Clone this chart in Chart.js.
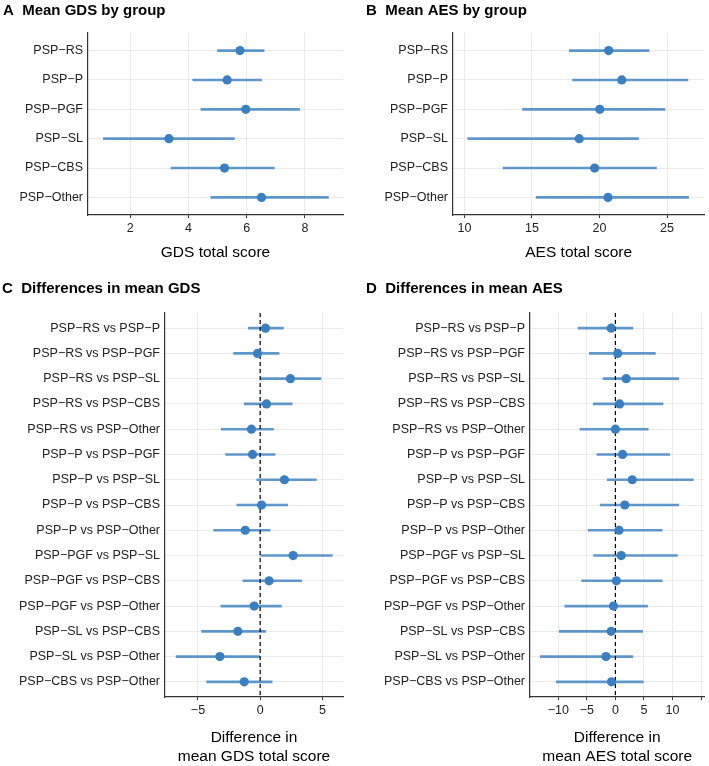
<!DOCTYPE html>
<html>
<head>
<meta charset="utf-8">
<script src="https://cdn.jsdelivr.net/npm/chart.js@4/dist/chart.umd.min.js"></script>
<style>
  body { margin: 0; background: #fff; }
  #wrap { position: relative; width: 709px; height: 766px; }
  canvas { position: absolute; }
</style>
</head>
<body>
<div id="wrap">
  <canvas id="panelA" width="355" height="262" style="left:0;top:0"></canvas>
  <canvas id="panelB" width="354" height="262" style="left:355px;top:0"></canvas>
  <canvas id="panelC" width="355" height="504" style="left:0;top:262px"></canvas>
  <canvas id="panelD" width="354" height="504" style="left:355px;top:262px"></canvas>
</div>
<script>
// groups and estimates
const groups = ['PSP−RS', 'PSP−P', 'PSP−PGF', 'PSP−SL', 'PSP−CBS', 'PSP−Other'];
const gdsMean = [5.77, 5.33, 5.97, 3.33, 5.24, 6.51];
const gdsLow  = [5.00, 4.15, 4.43, 1.08, 3.40, 4.77];
const gdsHigh = [6.60, 6.51, 7.82, 5.58, 6.95, 8.81];
const aesMean = [20.68, 21.65, 20.02, 18.50, 19.64, 20.63];
const aesLow  = [17.77, 18.01, 14.30, 10.24, 12.86, 15.31];
const aesHigh = [23.67, 26.55, 24.85, 22.89, 24.22, 26.60];

const pairs = [
  'PSP−RS vs PSP−P', 'PSP−RS vs PSP−PGF', 'PSP−RS vs PSP−SL', 'PSP−RS vs PSP−CBS',
  'PSP−RS vs PSP−Other', 'PSP−P vs PSP−PGF', 'PSP−P vs PSP−SL', 'PSP−P vs PSP−CBS',
  'PSP−P vs PSP−Other', 'PSP−PGF vs PSP−SL', 'PSP−PGF vs PSP−CBS', 'PSP−PGF vs PSP−Other',
  'PSP−SL vs PSP−CBS', 'PSP−SL vs PSP−Other', 'PSP−CBS vs PSP−Other'
];
const gdsDiffMean = [0.43, -0.21, 2.43, 0.51, -0.70, -0.61, 1.95, 0.11, -1.20, 2.65, 0.72, -0.48, -1.79, -3.24, -1.28];
const gdsDiffLow  = [-0.94, -2.14, 0.00, -1.28, -3.13, -2.78, -0.27, -1.87, -3.74, 0.00, -1.39, -3.16, -4.71, -6.76, -4.30];
const gdsDiffHigh = [1.87, 1.52, 4.89, 2.57, 1.07, 1.20, 4.52, 2.22, 0.80, 5.80, 3.34, 1.71, 0.45, 0.00, 0.96];
const aesDiffMean = [-0.74, 0.40, 1.88, 0.74, 0.00, 1.25, 2.95, 1.65, 0.63, 1.02, 0.17, -0.34, -0.74, -1.65, -0.68];
const aesDiffLow  = [-6.53, -4.55, -2.16, -3.86, -6.19, -3.24, -1.42, -2.67, -4.77, -3.81, -5.91, -8.86, -9.83, -13.13, -10.34];
const aesDiffHigh = [3.07, 6.99, 11.08, 8.35, 5.74, 9.49, 13.64, 11.08, 8.18, 10.85, 8.18, 5.63, 4.77, 3.07, 4.89];

// tick values and labels
const gdsTicks = [2, 4, 6, 8];
const gdsTickLabels = ['2', '4', '6', '8'];
const aesTicks = [10, 15, 20, 25];
const aesTickLabels = ['10', '15', '20', '25'];
const gdsDiffTicks = [-5, 0, 5];
const gdsDiffTickLabels = ['−5', '0', '5'];
const aesDiffTicks = [-10, -5, 0, 5, 10, 15];
const aesDiffTickLabels = ['−10', '−5', '0', '5', '10', ''];

const FONT = "'Liberation Sans', Arial, sans-serif";
const DOT = '#3a7fc1';
const BAR = 'rgba(58,127,193,0.8)';
const GRID = '#ebebeb';
const AXIS = '#333333';

function makePanel(id, p) {
  const n = p.cats.length;
  const datasets = [
    {
      type: 'scatter',
      data: p.mean.map((v, i) => ({ x: v, y: i })),
      pointRadius: 4.6,
      pointBackgroundColor: DOT,
      pointBorderWidth: 0,
      order: 0
    },
    {
      type: 'bar',
      data: p.low.map((v, i) => ({ x: [v, p.high[i]], y: i })),
      backgroundColor: BAR,
      borderWidth: 0,
      barThickness: 2,
      grouped: false,
      order: 2
    }
  ];
  if (p.zeroLine) {
    datasets.push({
      type: 'line',
      data: [{ x: 0, y: -0.6 }, { x: 0, y: n - 0.4 }],
      borderColor: '#000',
      borderWidth: 1.2,
      borderDash: [4, 3],
      pointRadius: 0,
      order: 1
    });
  }
  new Chart(document.getElementById(id), {
    type: 'bar',
    data: { datasets },
    options: {
      responsive: false,
      animation: false,
      indexAxis: 'y',
      layout: { padding: p.pad },
      plugins: {
        legend: { display: false },
        tooltip: { enabled: false },
        title: {
          display: true,
          text: p.title,
          align: 'start',
          color: '#000',
          font: { family: FONT, size: 15, weight: 'bold' },
          padding: p.titlePad
        }
      },
      scales: {
        x: {
          type: 'linear',
          min: p.xMin,
          max: p.xMax,
          afterBuildTicks: s => { s.ticks = p.ticks.map(v => ({ value: v })); },
          afterFit: s => { s.height = p.xHeight; },
          ticks: {
            autoSkip: false,
            maxRotation: 0,
            padding: 3,
            color: '#222',
            font: { family: FONT, size: 12.5 },
            callback: v => p.tickLabels[p.ticks.indexOf(v)]
          },
          grid: { color: GRID, lineWidth: 1, tickLength: 3, tickColor: AXIS, tickWidth: 1 },
          border: { display: true, color: AXIS, width: 1.2 },
          title: {
            display: true,
            text: p.xTitle,
            color: '#000',
            font: { family: FONT, size: 15.5 },
            padding: { top: 0, bottom: p.xTitlePadBottom }
          }
        },
        y: {
          type: 'linear',
          reverse: true,
          min: -0.6,
          max: n - 0.4,
          offset: false,
          afterBuildTicks: s => { s.ticks = p.cats.map((c, i) => ({ value: i })); },
          afterFit: s => { s.width = p.yWidth; },
          ticks: {
            autoSkip: false,
            padding: 5,
            color: '#222',
            font: { family: FONT, size: 12.5 },
            callback: v => p.cats[v]
          },
          grid: { color: GRID, lineWidth: 1, drawTicks: false, offset: false },
          border: { display: true, color: AXIS, width: 1.2 }
        }
      }
    }
  });
}

makePanel('panelA', {
  title: 'A  Mean GDS by group', cats: groups, mean: gdsMean, low: gdsLow, high: gdsHigh,
  xMin: 0.55, xMax: 9.31, ticks: gdsTicks, tickLabels: gdsTickLabels,
  xTitle: 'GDS total score', xTitlePadBottom: 0, xHeight: 47, yWidth: 85,
  pad: { left: 3, right: 12, top: 0, bottom: 0 }, titlePad: { top: 2, bottom: 13 }
});
makePanel('panelB', {
  title: 'B  Mean AES by group', cats: groups, mean: aesMean, low: aesLow, high: aesHigh,
  xMin: 9.15, xMax: 27.77, ticks: aesTicks, tickLabels: aesTickLabels,
  xTitle: 'AES total score', xTitlePadBottom: 0, xHeight: 47, yWidth: 87,
  pad: { left: 11, right: 0, top: 0, bottom: 0 }, titlePad: { top: 2, bottom: 13 }
});
makePanel('panelC', {
  title: 'C  Differences in mean GDS', cats: pairs, mean: gdsDiffMean, low: gdsDiffLow, high: gdsDiffHigh,
  xMin: -7.65, xMax: 6.66, ticks: gdsDiffTicks, tickLabels: gdsDiffTickLabels, zeroLine: true,
  xTitle: ['Difference in', 'mean GDS total score'], xTitlePadBottom: 0, xHeight: 69, yWidth: 163,
  pad: { left: 2, right: 12, top: 0, bottom: 0 }, titlePad: { top: 18, bottom: 15 }
});
makePanel('panelD', {
  title: 'D  Differences in mean AES', cats: pairs, mean: aesDiffMean, low: aesDiffLow, high: aesDiffHigh,
  xMin: -14.94, xMax: 15.57, ticks: aesDiffTicks, tickLabels: aesDiffTickLabels, zeroLine: true,
  xTitle: ['Difference in', 'mean AES total score'], xTitlePadBottom: 0, xHeight: 69, yWidth: 164,
  pad: { left: 11, right: 0, top: 0, bottom: 0 }, titlePad: { top: 18, bottom: 15 }
});
</script>
</body>
</html>
